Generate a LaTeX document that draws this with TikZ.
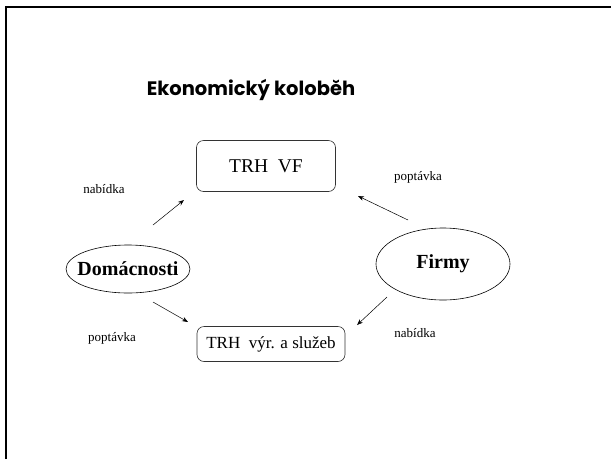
\documentclass[tikz,border=0pt]{standalone}
\usepackage{fontspec}
\setmainfont{Liberation Serif}
\newfontfamily\titlefont{Poppins}
\usetikzlibrary{shapes.geometric,arrows.meta}
\begin{document}
\begin{tikzpicture}[x=1pt,y=-1pt,
  market/.style={draw=black!80,rounded corners=7pt,line width=0.6pt,inner sep=0pt},
  agent/.style={inner sep=0pt,font=\fontsize{20}{22}\selectfont\bfseries},
  agentring/.style={draw,line width=0.6pt},
  flowlabel/.style={font=\fontsize{13}{15}\selectfont},
  flow/.style={line width=0.5pt,-{Stealth[length=6pt,width=4.5pt]}}]
\useasboundingbox (0,0) rectangle (611,459);
\draw[line width=2pt] (6,459) -- (6,7) -- (611,7);
\node[font=\titlefont\fontsize{19.5}{22}\selectfont\bfseries] (title) at (251,90) {Ekonomický koloběh};
\node[market,minimum width=139pt,minimum height=51pt,font=\fontsize{19.5}{22}\selectfont] (vf) at (266,166) {TRH\ \ VF};
\node[market,minimum width=148pt,minimum height=35pt,font=\fontsize{17}{20}\selectfont] (vyr) at (271,344) {TRH\ \ výr. a služeb};
\node[agent] (dom) at (128,269) {Domácnosti};
\draw[agentring] (dom.center) ellipse [x radius=62pt,y radius=24pt];
\node[agent] (firm) at (443,264) {Firmy};
\draw[agentring] (firm.center) ellipse [x radius=67pt,y radius=36pt];
\node[flowlabel] (l1) at (104,189) {nabídka};
\node[flowlabel] (l2) at (418,177) {poptávka};
\node[flowlabel] (l3) at (112,338) {poptávka};
\node[flowlabel] (l4) at (415,333) {nabídka};
\coordinate (a1s) at (153,225); \coordinate (a1e) at (184,200);
\coordinate (a2s) at (408,220); \coordinate (a2e) at (358,196);
\coordinate (a3s) at (153,302); \coordinate (a3e) at (188,322);
\coordinate (a4s) at (387,297); \coordinate (a4e) at (357,325);
\draw[flow] (a1s) -- (a1e);
\draw[flow] (a2s) -- (a2e);
\draw[flow] (a3s) -- (a3e);
\draw[flow] (a4s) -- (a4e);
\end{tikzpicture}
\end{document}
